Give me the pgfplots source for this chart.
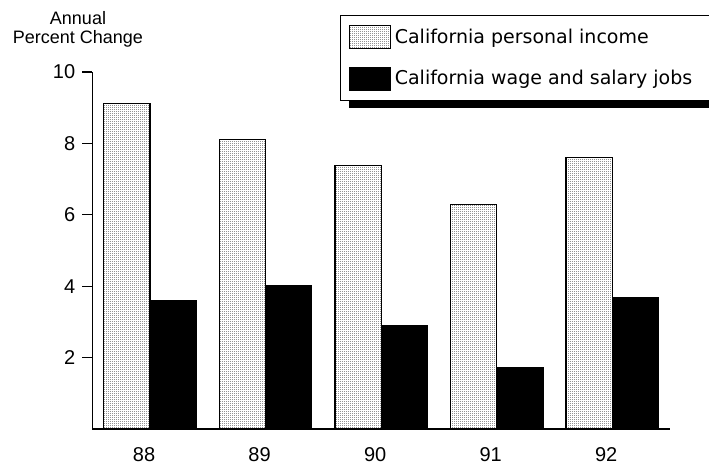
\documentclass[border=0pt]{standalone}
\usepackage{pgfplots}
\pgfplotsset{compat=1.18}
\usepackage{fontspec}
\setmainfont{Liberation Sans}
\newfontfamily\legfont{DejaVu Sans}
\usetikzlibrary{patterns}
\pgfdeclarepatternformonly{finedots}{\pgfqpoint{0pt}{0pt}}{\pgfqpoint{1pt}{1pt}}{\pgfqpoint{1pt}{1pt}}{%
  \pgfpathrectangle{\pgfqpoint{0pt}{0pt}}{\pgfqpoint{0.5pt}{0.5pt}}\pgfusepath{fill}}
\begin{document}
\begin{tikzpicture}
\begin{axis}[
  scale only axis, width=288.85pt, height=178.5pt,
  xmin=-0.5, xmax=4.5, ymin=0, ymax=10,
  axis x line=bottom, axis y line=left,
  axis line style={-, line width=0.6pt, black},
  ytick={2,4,6,8,10}, xtick={0,1,2,3,4}, xticklabels={88,89,90,91,92},
  tick align=outside, major tick length=5pt,
  x tick style={draw=none}, y tick style={line width=0.6pt, black},
  ticklabel style={font=\fontsize{10}{12}\selectfont},
  /pgf/number format/assume math mode=true,
  xticklabel style={yshift=-0.7pt, xshift=-3pt},
  ybar=0pt, bar width=0.4,
  legend cell align=left,
  legend style={at={(0.4288,1.1597)}, anchor=north west, draw=black, line width=0.6pt, fill=white,
    inner xsep=4pt, inner ysep=4.5pt, /tikz/row sep=8pt,
    font=\legfont\fontsize{9.5}{11}\selectfont},
]
\addplot[bar shift=-0.2, draw=black, line width=0.6pt, pattern=finedots, pattern color=black,
  legend image code/.code={\draw[draw=black,line width=0.6pt,pattern=finedots,pattern color=black] (0pt,-5.75pt) rectangle (20.5pt,5.75pt);}]
  coordinates {(0,9.11) (1,8.11) (2,7.38) (3,6.29) (4,7.6)};
\addlegendentry{California personal income}
\addplot[bar shift=0.2, draw=black, fill=black,
  legend image code/.code={\fill[black] (0pt,-5.75pt) rectangle (20.5pt,5.75pt);}]
  coordinates {(0,3.6) (1,4.03) (2,2.89) (3,1.73) (4,3.68)};
\addlegendentry{California wage and salary jobs\hspace*{12pt}}
\end{axis}
% legend drop shadow: visible strip below the legend box
\fill[black] (128.35pt,160.5pt) rectangle (313.85pt,164.6pt);
\node[align=center, font=\fontsize{9}{9.5}\selectfont, inner sep=0pt] at (-7.15pt,199.75pt) {Annual\\Percent Change};
\pgfresetboundingbox
\useasboundingbox (-46.15pt,-17pt) rectangle (308.35pt,214.5pt);
\end{tikzpicture}
\end{document}
